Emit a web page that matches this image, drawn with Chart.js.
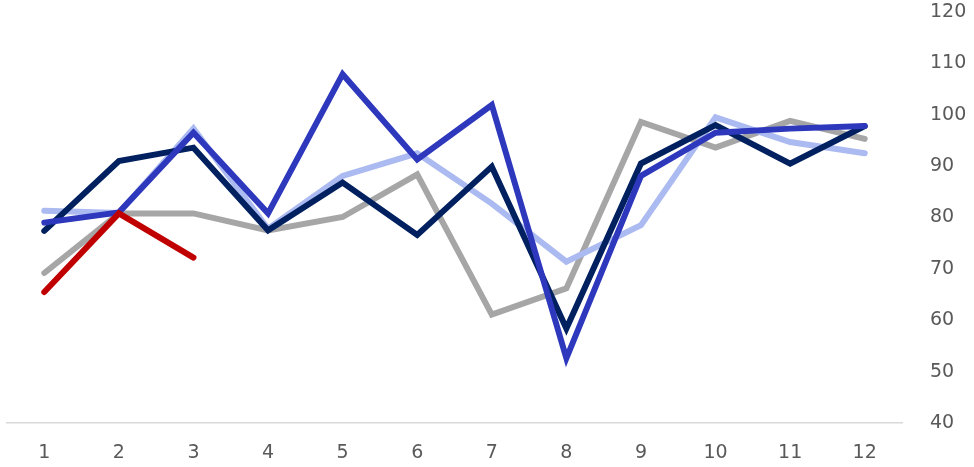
<!DOCTYPE html>
<html>
<head>
<meta charset="utf-8">
<script src="https://cdn.jsdelivr.net/npm/chart.js@4"></script>
<style>
  html, body { margin: 0; padding: 0; background: #fff; }
  #wrap { width: 974px; height: 467px; }
</style>
</head>
<body>
<div id="wrap"><canvas id="lineChart" width="974" height="467"></canvas></div>
<script>
// Months on the category axis
const months = ["1", "2", "3", "4", "5", "6", "7", "8", "9", "10", "11", "12"];

// Series values (index), one array per line
const seriesGray = [69.2, 80.8, 80.8, 77.5, 80.1, 88.4, 61.1, 66.2, 98.6, 93.6, 98.8, 95.3];
const seriesLightBlue = [81.3, 80.9, 97.3, 77.8, 88.1, 92.5, 82.7, 71.4, 78.5, 99.5, 94.7, 92.5];
const seriesNavy = [77.4, 91.0, 93.6, 77.5, 86.8, 76.6, 89.9, 58.4, 90.5, 98.0, 90.5, 97.8];
const seriesBlue = [79.0, 81.0, 96.5, 80.8, 107.9, 91.3, 101.9, 52.6, 88.1, 96.5, 97.3, 97.8];
const seriesRed = [65.5, 80.8, 72.2];

// Y axis range
const yMin = 40;
const yMax = 120;
const yStep = 10;

function lineSet(label, data, color, order) {
  return {
    label: label,
    data: data,
    borderColor: color,
    backgroundColor: color,
    borderWidth: 6,
    pointRadius: 0,
    tension: 0,
    fill: false,
    order: order,
    borderCapStyle: "round",
    borderJoinStyle: "miter",
  };
}

const ctx = document.getElementById("lineChart").getContext("2d");
const chart = new Chart(ctx, {
  type: "line",
  data: {
    labels: months,
    datasets: [
      lineSet("Gray", seriesGray, "#a6a6a6", 5),
      lineSet("Light blue", seriesLightBlue, "#abbaf0", 4),
      lineSet("Navy", seriesNavy, "#002060", 3),
      lineSet("Blue", seriesBlue, "#2e38bd", 2),
      lineSet("Red", seriesRed, "#c00000", 1),
    ],
  },
  options: {
    responsive: false, // fixed canvas size
    animation: false,
    layout: {
      padding: { left: 7, top: 12, right: 0, bottom: 0 },
    },
    plugins: {
      legend: { display: false },
      tooltip: { enabled: false },
    },
    scales: {
      x: {
        offset: true,
        grid: { display: false, drawTicks: false },
        border: { display: true, color: "#d9d9d9", width: 1.5 },
        ticks: {
          color: "#595959",
          padding: 19,
          font: { family: "DejaVu Sans", size: 19 },
          maxRotation: 0,
          autoSkip: false,
        },
        afterFit: (scale) => { scale.height = 44; },
      },
      y: {
        position: "right",
        min: yMin,
        max: yMax,
        // hidden tick marks only push the labels away from the plot
        grid: { display: false, drawTicks: true, tickLength: 28 },
        border: { display: false },
        ticks: {
          stepSize: yStep,
          color: "#595959",
          padding: 0,
          font: { family: "DejaVu Sans", size: 19 },
        },
        afterFit: (scale) => { scale.width = 72; },
      },
    },
  },
});
</script>
</body>
</html>
